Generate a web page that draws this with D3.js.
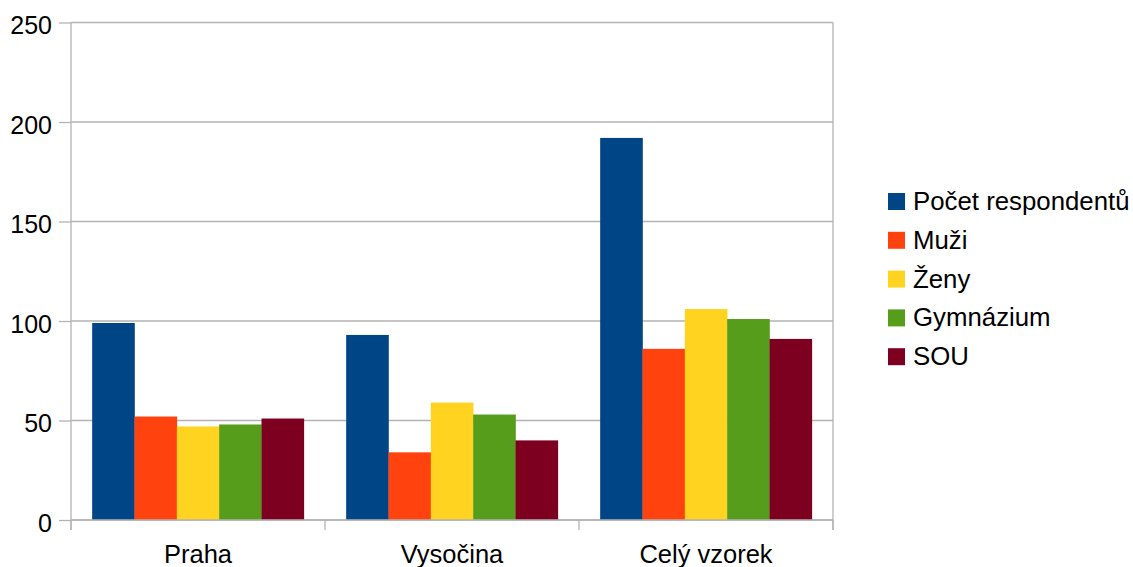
<!DOCTYPE html>
<html>
<head>
<meta charset="utf-8">
<script src="https://cdn.jsdelivr.net/npm/d3@7"></script>
<style>
  html, body { margin: 0; padding: 0; background: #fff; }
  svg { display: block; font-family: "Liberation Sans", Arial, sans-serif; }
</style>
</head>
<body>
<svg id="chart" width="1133" height="567"></svg>
<script>
// Respondents by region, split by sex and school type
const categories = ["Praha", "Vysočina", "Celý vzorek"];
const seriesNames = ["Počet respondentů", "Muži", "Ženy", "Gymnázium", "SOU"];
const pocetRespondentu = [99, 93, 192];
const muzi = [52, 34, 86];
const zeny = [47, 59, 106];
const gymnazium = [48, 53, 101];
const sou = [51, 40, 91];
const yTicks = [0, 50, 100, 150, 200, 250];
const colors = ["#004586", "#ff420e", "#ffd320", "#579d1c", "#7e0021"];

const seriesValues = [pocetRespondentu, muzi, zeny, gymnazium, sou];

const svg = d3.select("#chart");
const plotLeft = 71, plotRight = 833, plotTop = 22.5, plotBottom = 520;
const gridColor = "#b3b3b3";
const fontSize = 25;

const x0 = d3.scaleBand().domain(categories).range([plotLeft, plotRight]).padding(0);
const x1 = d3.scaleBand().domain(seriesNames)
  .range([x0.bandwidth() / 12, x0.bandwidth() * 11 / 12]).padding(0);
const y = d3.scaleLinear().domain([0, 250]).range([plotBottom, plotTop]);

// horizontal gridlines
svg.append("g")
  .selectAll("line")
  .data(yTicks)
  .join("line")
  .attr("x1", plotLeft).attr("x2", plotRight)
  .attr("y1", d => y(d)).attr("y2", d => y(d))
  .attr("stroke", gridColor).attr("stroke-width", 1.3);

// right frame edge
svg.append("line")
  .attr("x1", plotRight).attr("x2", plotRight)
  .attr("y1", plotTop).attr("y2", plotBottom + 10)
  .attr("stroke", gridColor).attr("stroke-width", 1.3);

// bars
const groups = svg.append("g")
  .selectAll("g")
  .data(categories)
  .join("g")
  .attr("transform", c => `translate(${x0(c)},0)`);

groups.selectAll("rect")
  .data((c, i) => seriesNames.map((s, k) => ({ s, k, v: seriesValues[k][i] })))
  .join("rect")
  .attr("x", d => x1(d.s))
  .attr("width", x1.bandwidth() + 0.3)
  .attr("y", d => y(d.v))
  .attr("height", d => plotBottom - y(d.v))
  .attr("fill", d => colors[d.k]);

// y axis
const yAxis = svg.append("g")
  .attr("transform", `translate(${plotLeft},0)`)
  .call(d3.axisLeft(y).tickValues(yTicks).tickSize(12).tickPadding(7).tickFormat(d3.format("d")));
yAxis.select(".domain").attr("stroke", gridColor).attr("stroke-width", 1.3)
  .attr("d", `M0,${plotTop}V${plotBottom + 10}`);
yAxis.selectAll(".tick line").attr("stroke", gridColor).attr("stroke-width", 1.3);
yAxis.selectAll(".tick text")
  .attr("font-size", fontSize).attr("font-family", "Liberation Sans, Arial, sans-serif")
  .attr("fill", "#000").attr("dy", "0.44em");

// x axis
const xAxis = svg.append("g")
  .attr("transform", `translate(0,${plotBottom})`)
  .call(d3.axisBottom(x0).tickSize(0).tickPadding(30));
xAxis.select(".domain").attr("stroke", gridColor).attr("stroke-width", 1.3)
  .attr("d", `M${plotLeft},0H${plotRight}`);
xAxis.selectAll(".tick text")
  .attr("font-size", 25.5).attr("font-family", "Liberation Sans, Arial, sans-serif")
  .attr("fill", "#000").attr("dy", "0.5em");

// category boundary ticks
svg.append("g")
  .selectAll("line")
  .data(d3.range(categories.length + 1))
  .join("line")
  .attr("x1", i => plotLeft + i * x0.step()).attr("x2", i => plotLeft + i * x0.step())
  .attr("y1", plotBottom).attr("y2", plotBottom + 10)
  .attr("stroke", gridColor).attr("stroke-width", 1.3);

// legend
const legend = svg.append("g").attr("transform", "translate(888,193)");
const rows = legend.selectAll("g")
  .data(seriesNames)
  .join("g")
  .attr("transform", (d, i) => `translate(0,${i * 38.8})`);
rows.append("rect")
  .attr("width", 17).attr("height", 17)
  .attr("fill", (d, i) => colors[i]);
rows.append("text")
  .attr("x", 25).attr("y", 17)
  .attr("font-size", 25.8)
  .attr("fill", "#000")
  .text(d => d);
</script>
</body>
</html>
